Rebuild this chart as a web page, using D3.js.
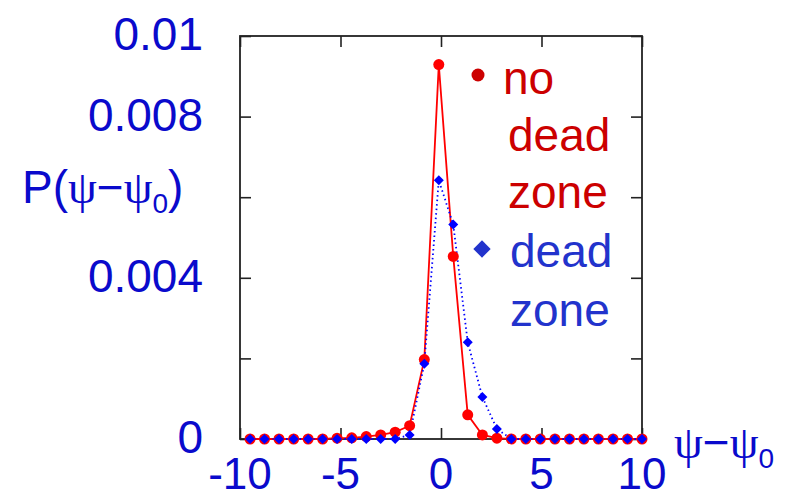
<!DOCTYPE html>
<html>
<head>
<meta charset="utf-8">
<script src="https://cdn.jsdelivr.net/npm/d3@7"></script>
<style>
	body { margin: 0; background: #fff; }
	svg { display: block; font-family: Arial, "Liberation Sans", sans-serif; }
	.psi { font-family: "Liberation Serif", "DejaVu Serif", serif; }
</style>
</head>
<body>
<div id="chart"></div>
<script>
// data
var xValues = [-9.50, -8.78, -8.06, -7.33, -6.61, -5.89, -5.17, -4.44, -3.72, -3.00,
	-2.28, -1.56, -0.83, -0.11, 0.61, 1.33, 2.06, 2.78, 3.50, 4.22,
	4.94, 5.67, 6.39, 7.11, 7.83, 8.56, 9.28, 10.00];
var noDeadZone = [0, 0, 0, 0, 0, 0, 0.00002, 0.00003, 0.00006, 0.0001,
	0.00017, 0.00033, 0.00197, 0.00929, 0.00453, 0.0006, 0.0001, 0.00002, 0, 0,
	0, 0, 0, 0, 0, 0, 0, 0];
var deadZone = [0, 0, 0, 0, 0, 0, 0, 0, 0, 0,
	0, 0.0001, 0.00187, 0.00642, 0.00532, 0.0024, 0.00104, 0.00025, 0, 0,
	0, 0, 0, 0, 0, 0, 0, 0];
var xTicks = [-10, -5, 0, 5, 10];
var yTicks = [0, 0.002, 0.004, 0.006, 0.008, 0.01];
var yTickLabels = ['0', '', '0.004', '', '0.008', '0.01'];

const width = 799;
const height = 500;
const margin = {top: 36, right: 157, bottom: 61, left: 240};

const axisBlue = '#0a0acc';
const legendRed = '#cc0000';
const legendBlue = '#2233cc';

const svg = d3.select('#chart').append('svg')
	.attr('width', width)
	.attr('height', height);

const x = d3.scaleLinear()
	.domain([-10, 10])
	.range([margin.left, width - margin.right]);

const y = d3.scaleLinear()
	.domain([0, 0.01])
	.range([height - margin.bottom, margin.top]);

// inward ticks on all four sides
const tickLen = 11;
const xAxisB = d3.axisBottom(x).tickValues(xTicks).tickSize(-tickLen).tickFormat('');
const xAxisT = d3.axisTop(x).tickValues(xTicks).tickSize(-tickLen).tickFormat('');
const yAxisL = d3.axisLeft(y).tickValues(yTicks).tickSize(-tickLen).tickFormat('');
const yAxisR = d3.axisRight(y).tickValues(yTicks).tickSize(-tickLen).tickFormat('');

function styleAxis(g) {
	g.select('.domain').remove();
	g.selectAll('line').attr('stroke', '#222').attr('stroke-width', 1.6);
}
svg.append('g').attr('transform', `translate(0,${y(0)})`).call(xAxisB).call(styleAxis);
svg.append('g').attr('transform', `translate(0,${y(0.01)})`).call(xAxisT).call(styleAxis);
svg.append('g').attr('transform', `translate(${x(-10)},0)`).call(yAxisL).call(styleAxis);
svg.append('g').attr('transform', `translate(${x(10)},0)`).call(yAxisR).call(styleAxis);

// frame
svg.append('rect')
	.attr('x', x(-10))
	.attr('y', y(0.01))
	.attr('width', x(10) - x(-10))
	.attr('height', y(0) - y(0.01))
	.attr('fill', 'none')
	.attr('stroke', '#222')
	.attr('stroke-width', 1.8);

// tick labels
svg.append('g').selectAll('text').data(xTicks).enter().append('text')
	.attr('x', d => x(d))
	.attr('y', 489)
	.attr('text-anchor', 'middle')
	.attr('font-size', 44)
	.attr('fill', axisBlue)
	.text(d => d);

svg.append('g').selectAll('text').data(yTicks).enter().append('text')
	.attr('x', 203)
	.attr('y', d => y(d) + 14)
	.attr('text-anchor', 'end')
	.attr('font-size', 46)
	.attr('fill', axisBlue)
	.text((d, i) => yTickLabels[i]);

// axis titles
const yTitle = svg.append('text')
	.attr('x', 22)
	.attr('y', 203)
	.attr('font-size', 46)
	.attr('fill', axisBlue);
yTitle.append('tspan').text('P(');
yTitle.append('tspan').attr('class', 'psi').text('ψ');
yTitle.append('tspan').text('−');
yTitle.append('tspan').attr('class', 'psi').text('ψ');
yTitle.append('tspan').attr('font-size', 28).attr('dy', 10).text('0');
yTitle.append('tspan').attr('dy', -10).text(')');

const xTitle = svg.append('text')
	.attr('x', 674)
	.attr('y', 458)
	.attr('font-size', 46)
	.attr('fill', axisBlue);
xTitle.append('tspan').attr('class', 'psi').text('ψ');
xTitle.append('tspan').text('−');
xTitle.append('tspan').attr('class', 'psi').text('ψ');
xTitle.append('tspan').attr('font-size', 28).attr('dy', 10).text('0');

// series
const points = xValues.map((v, i) => ({x: v, red: noDeadZone[i], blue: deadZone[i]}));

const redLine = d3.line().x(d => x(d.x)).y(d => y(d.red));
const blueLine = d3.line().x(d => x(d.x)).y(d => y(d.blue));

svg.append('path')
	.datum(points)
	.attr('d', redLine)
	.attr('fill', 'none')
	.attr('stroke', '#ff0000')
	.attr('stroke-width', 1.8);

svg.append('path')
	.datum(points)
	.attr('d', blueLine)
	.attr('fill', 'none')
	.attr('stroke', '#0000ff')
	.attr('stroke-width', 1.8)
	.attr('stroke-dasharray', '1.5,3');

svg.append('g').selectAll('circle').data(points).enter().append('circle')
	.attr('cx', d => x(d.x))
	.attr('cy', d => y(d.red))
	.attr('r', 5.5)
	.attr('fill', '#ff0000');

const diamond = d3.symbol().type(d3.symbolSquare).size(50);
svg.append('g').selectAll('path').data(points).enter().append('path')
	.attr('d', diamond)
	.attr('transform', d => `translate(${x(d.x)},${y(d.blue)}) rotate(45)`)
	.attr('fill', '#0000ff');

// legend
const legend = svg.append('g');
legend.append('circle')
	.attr('cx', 478)
	.attr('cy', 75)
	.attr('r', 6.5)
	.attr('fill', legendRed);
['no', 'dead', 'zone'].forEach((t, i) => {
	legend.append('text')
		.attr('x', i == 0 ? 503 : 508)
		.attr('y', 94 + i * 57)
		.attr('font-size', 46)
		.attr('fill', legendRed)
		.text(t);
});
legend.append('path')
	.attr('d', d3.symbol().type(d3.symbolSquare).size(150))
	.attr('transform', 'translate(482,249) rotate(45)')
	.attr('fill', legendBlue);
['dead', 'zone'].forEach((t, i) => {
	legend.append('text')
		.attr('x', 510)
		.attr('y', 267 + i * 59)
		.attr('font-size', 46)
		.attr('fill', legendBlue)
		.text(t);
});
</script>
</body>
</html>
